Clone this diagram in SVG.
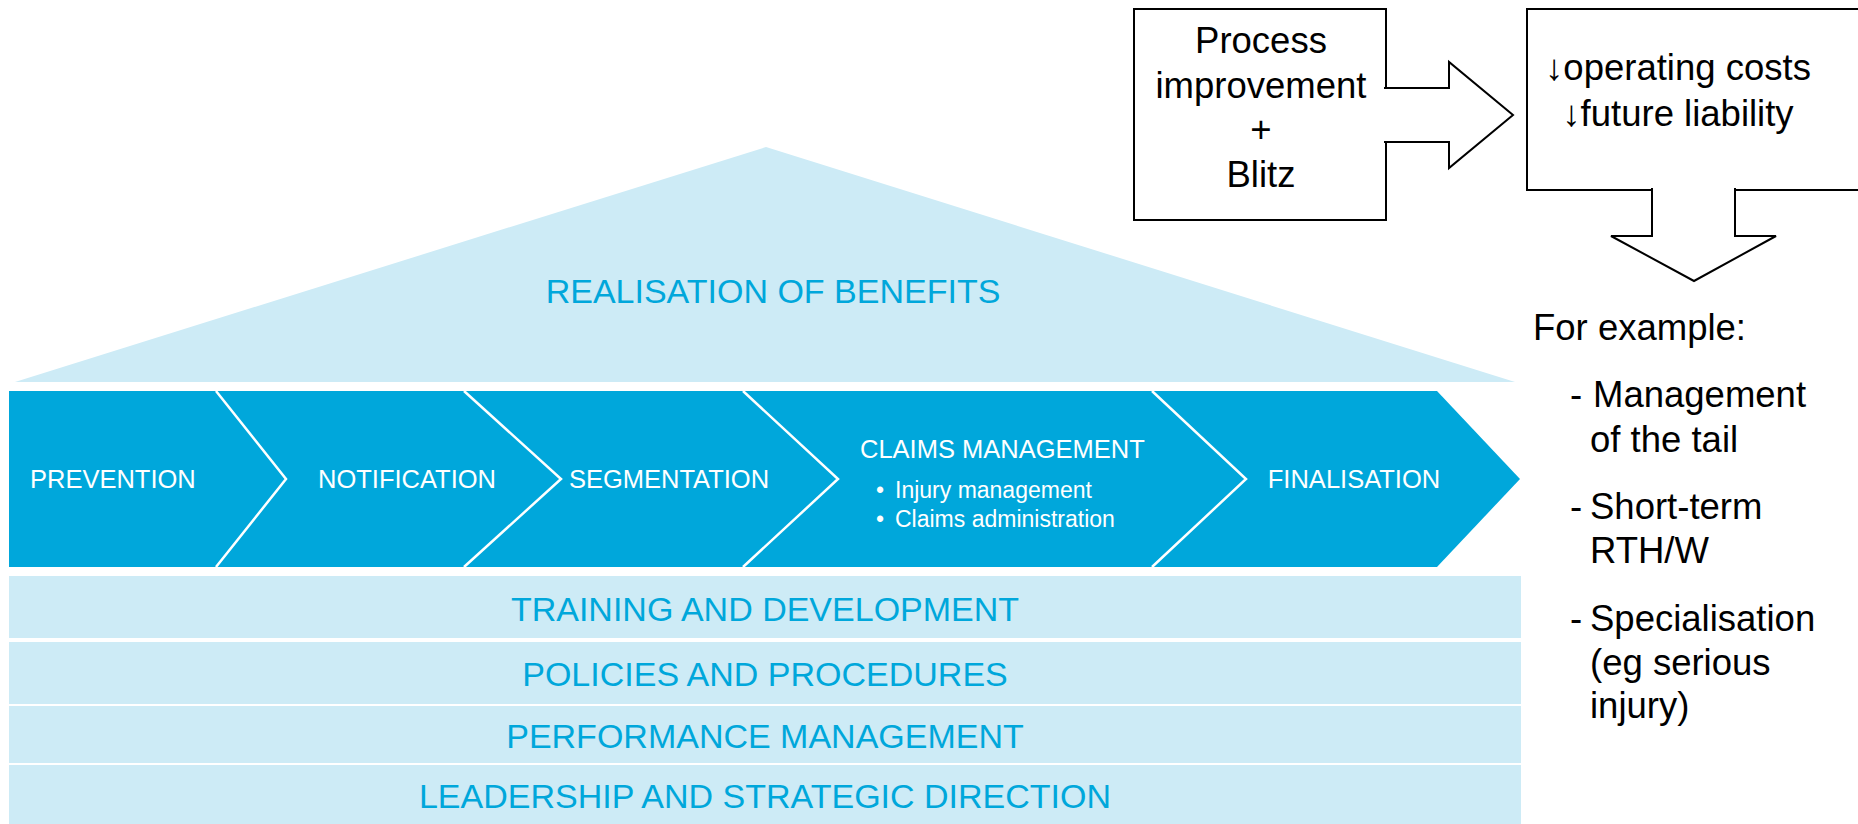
<svg xmlns="http://www.w3.org/2000/svg" width="1858" height="824" viewBox="0 0 1858 824">
<style>
text{font-family:"Liberation Sans",Arial,sans-serif}
.box{fill:#fff;stroke:#000;stroke-width:2}
.blk{fill:#000;font-size:36.5px}
.mid{text-anchor:middle}
.light{fill:#CDEBF6}
.blue{fill:#00A7DB}
.bt{fill:#00A7DB;font-size:34px;text-anchor:middle}
.wt{fill:#fff;font-size:25.5px}
.div{fill:none;stroke:#fff;stroke-width:2.5}
</style>
<g id="roof">
<polygon class="light" points="766,147 15,382 1515,382"/>
<text class="bt" x="773" y="303">REALISATION OF BENEFITS</text>
</g>
<g id="process-chain">
<polygon class="blue" points="9,391 1437,391 1520,479 1437,567 9,567"/>
<g id="prevention"><text class="wt" x="30" y="488">PREVENTION</text></g>
<g id="notification"><text class="wt mid" x="407" y="488">NOTIFICATION</text></g>
<g id="segmentation"><text class="wt mid" x="669" y="488">SEGMENTATION</text></g>
<g id="claims-management">
<text class="wt" x="860" y="458">CLAIMS MANAGEMENT</text>
<text class="wt" style="font-size:23px" x="876" y="498">•</text>
<text class="wt" style="font-size:23px" x="895" y="498">Injury management</text>
<text class="wt" style="font-size:23px" x="876" y="527">•</text>
<text class="wt" style="font-size:23px" x="895" y="527">Claims administration</text>
</g>
<g id="finalisation"><text class="wt mid" x="1354" y="488">FINALISATION</text></g>
</g>
<g id="bars">
<g id="training"><rect class="light" x="9" y="576" width="1512" height="62"/><text class="bt" x="765" y="621">TRAINING AND DEVELOPMENT</text></g>
<g id="policies"><rect class="light" x="9" y="642" width="1512" height="62"/><text class="bt" x="765" y="686">POLICIES AND PROCEDURES</text></g>
<g id="performance"><rect class="light" x="9" y="706" width="1512" height="57"/><text class="bt" x="765" y="748">PERFORMANCE MANAGEMENT</text></g>
<g id="leadership"><rect class="light" x="9" y="765" width="1512" height="62"/><text class="bt" x="765" y="808">LEADERSHIP AND STRATEGIC DIRECTION</text></g>
</g>
<g id="process-box">
<rect class="box" x="1134" y="9" width="252" height="211"/>
<text class="blk mid" x="1261" y="53">Process</text>
<text class="blk mid" x="1261" y="98">improvement</text>
<text class="blk mid" x="1261" y="142">+</text>
<text class="blk mid" x="1261" y="187">Blitz</text>
</g>
<g id="outcome-box">
<rect class="box" x="1527" y="9" width="340" height="181"/>
<text class="blk mid" x="1678" y="80">↓operating costs</text>
<text class="blk mid" x="1678" y="126">↓future liability</text>
</g>
<g id="examples">
<text class="blk" x="1533" y="340">For example:</text>
<text class="blk" x="1570" y="407">-</text>
<text class="blk" x="1593" y="407">Management</text>
<text class="blk" x="1590" y="452">of the tail</text>
<text class="blk" x="1570" y="519">-</text>
<text class="blk" x="1590" y="519">Short-term</text>
<text class="blk" x="1590" y="563">RTH/W</text>
<text class="blk" x="1570" y="631">-</text>
<text class="blk" x="1590" y="631">Specialisation</text>
<text class="blk" x="1590" y="675">(eg serious</text>
<text class="blk" x="1590" y="718">injury)</text>
</g>
<g id="connectors">
<polyline class="div" points="216,391 286,479 216,567"/>
<polyline class="div" points="464,391 561,479 464,567"/>
<polyline class="div" points="743,391 838,479 743,567"/>
<polyline class="div" points="1152,391 1246,479 1152,567"/>
<path class="box" d="M1384,88 H1449 V62 L1513,115 L1449,168 V142 H1384"/>
<path class="box" d="M1652,188 V236 H1611 L1694,281 L1776,236 H1735 V188"/>
</g>
</svg>
